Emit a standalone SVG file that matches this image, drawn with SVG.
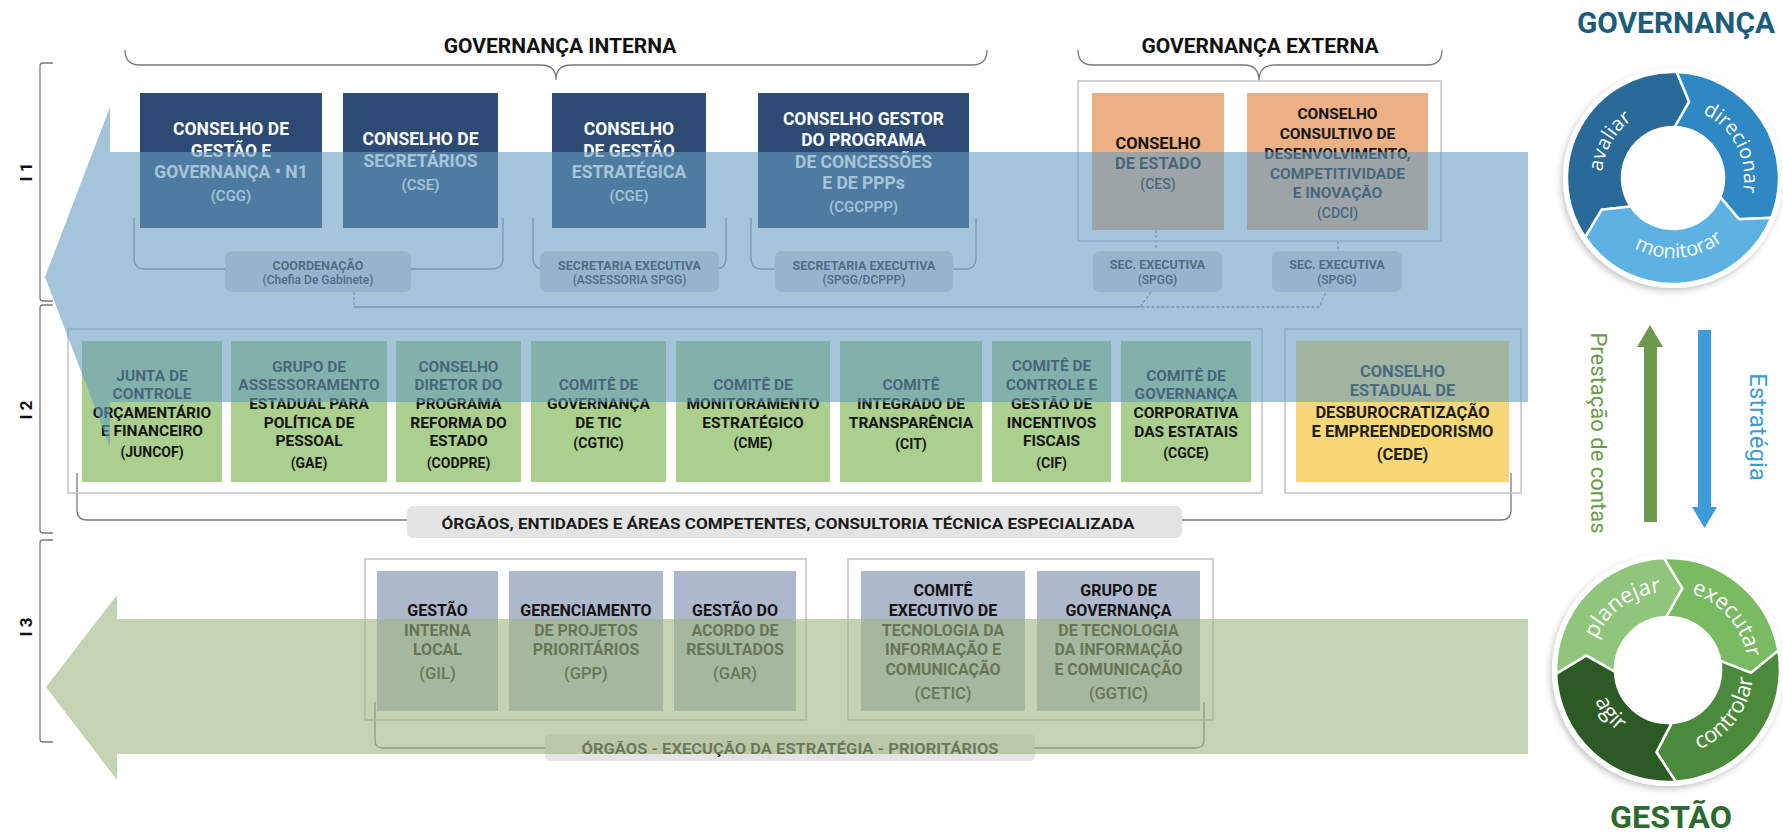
<svg xmlns="http://www.w3.org/2000/svg" width="1783" height="834" viewBox="0 0 1783 834">
<defs>
<style>
text{font-family:Roboto,'Liberation Sans',sans-serif;text-anchor:middle}
.h{font-size:21px;font-weight:700;fill:#111}
.lv{font-size:17px;font-weight:700;fill:#111}
.br{fill:none;stroke:#7a7a7a;stroke-width:1.3}
.bg{fill:none;stroke:#8c959e;stroke-width:1.3}
.dl{fill:none;stroke:#8c959e;stroke-width:1.3;stroke-dasharray:3 2}
.ob{fill:none;stroke:#c4c4c4;stroke-width:1.5}
.nv{fill:#2c4a72}
.or{fill:#ebb083}
.gr{fill:#abcf8e}
.ye{fill:#f7d776}
.gb{fill:#aeb8cc}
.sb{fill:#d6dae0}
.lb{fill:#e4e4e4}
.w17{font-size:17.5px;font-weight:700;fill:#fff}
.wp{font-size:15px;font-weight:500;fill:#fff}
.o16{font-size:16.5px;font-weight:700;fill:#161616}
.o15{font-size:15.5px;font-weight:700;fill:#161616}
.op{font-size:14px;font-weight:500;fill:#161616}
.s1{font-size:12.5px;font-weight:700;fill:#262626}
.s2{font-size:12px;font-weight:500;fill:#262626}
.g15{font-size:15.5px;font-weight:700;fill:#141414}
.gp{font-size:14px;font-weight:700;fill:#141414}
.c16{font-size:16.5px;font-weight:700;fill:#1e1e1e}
.b16{font-size:16px;font-weight:700;fill:#141414}
.bp{font-size:16.5px;font-weight:500;fill:#141414}
.lab{font-size:15.5px;font-weight:700;fill:#1c1c1c}
.rg{font-family:'Open Sans','Liberation Sans',sans-serif;fill:#fff;font-size:20px}
.rm{font-family:'Open Sans','Liberation Sans',sans-serif;fill:#fff;font-size:22px}
.seg{stroke:#fff;stroke-width:2.5;stroke-linejoin:round}
</style>
<filter id="sh" x="-20%" y="-20%" width="140%" height="140%"><feDropShadow dx="-2" dy="3" stdDeviation="3" flood-color="#000" flood-opacity="0.22"/></filter>
<path id="pAva" d="M1606.3,202.3 A71,71 0 0 1 1660.7,108.1"/>
<path id="pDir" d="M1689.0,108.8 A71,71 0 0 1 1738.4,205.7"/>
<path id="pMon" d="M1611.7,229.4 A80,80 0 0 0 1742.3,218.0"/>
<path id="pPla" d="M1590.2,664.6 A78,78 0 0 1 1686.9,594.3"/>
<path id="pExe" d="M1666.6,590.0 A80,80 0 0 1 1747.0,682.5"/>
<path id="pCon" d="M1672.4,754.9 A85,85 0 0 0 1750.8,650.9"/>
<path id="pAgi" d="M1591.0,652.2 A79,79 0 0 0 1663.9,748.9"/>
</defs>
<rect width="1783" height="834" fill="#fff"/>

<!-- headers and braces -->
<g id="headers">
<text class="h" x="560" y="53">GOVERNANÇA INTERNA</text>
<text class="h" x="1260" y="53">GOVERNANÇA EXTERNA</text>
<path class="br" d="M125,50 Q125,65 140,65 L541,65 Q556,65 556,80 Q556,65 571,65 L972,65 Q987,65 987,50"/>
<path class="br" d="M1078,50 Q1078,65 1093,65 L1244,65 Q1259,65 1259,81 Q1259,65 1274,65 L1427,65 Q1442,65 1442,50"/>
</g>

<!-- level brackets -->
<g id="levels">
<path class="br" stroke="#333" d="M53,63 L43,63 Q40,63 40,66 L40,298 Q40,301 43,301 L53,301"/>
<path class="br" stroke="#333" d="M53,305 L43,305 Q40,305 40,308 L40,530 Q40,533 43,533 L53,533"/>
<path class="br" stroke="#333" d="M53,540 L43,540 Q40,540 40,543 L40,739 Q40,742 43,742 L53,742"/>
<text class="lv" transform="translate(32,172) rotate(-90)">I 1</text>
<text class="lv" transform="translate(32,410) rotate(-90)">I 2</text>
<text class="lv" transform="translate(32,627) rotate(-90)">I 3</text>
</g>

<!-- connectors -->
<g id="connectors">
<path class="bg" d="M134,218 L134,258 Q134,269 145,269 L225,269 M411,269 L492,269 Q503,269 503,258 L503,218"/>
<path class="bg" d="M533,218 L533,258 Q533,269 544,269 M715,269 Q726,269 726,258 L726,218"/>
<path class="bg" d="M751,218 L751,258 Q751,269 762,269 L775,269 M953,269 L965,269 Q976,269 976,258 L976,218"/>
<path class="dl" d="M1156,230 L1156,250 M1338,241 L1338,250"/>
<path class="dl" d="M354,292 L354,307"/>
<path class="bg" d="M354,307 L1140,307"/>
<path class="dl" d="M1151,292 L1140,307 L1319,307 L1326,292"/>
<path class="br" d="M77,473 L77,510 Q77,520 87,520 L407,520 M1182,520 L1501,520 Q1511,520 1511,510 L1511,473"/>
<path class="br" d="M375,702 L375,740 Q375,748 383,748 L545,748 M1035,748 L1196,748 Q1204,748 1204,740 L1204,702"/>
</g>

<!-- outer group boxes -->
<g id="groups">
<rect class="ob" x="1078" y="81" width="363" height="160"/>
<rect class="ob" x="68" y="329" width="1194" height="164"/>
<rect class="ob" x="1285" y="329" width="236" height="164"/>
<rect class="ob" x="365" y="559" width="441" height="161"/>
<rect class="ob" x="848" y="559" width="365" height="161"/>
</g>

<!-- I1 nodes -->
<g id="cgg"><rect class="nv" x="140" y="93" width="182" height="135"/>
<text class="w17" x="231" y="135">CONSELHO DE</text><text class="w17" x="231" y="157">GESTÃO E</text><text class="w17" x="231" y="178">GOVERNANÇA • N1</text><text class="wp" x="231" y="201">(CGG)</text></g>
<g id="cse"><rect class="nv" x="343" y="93" width="155" height="135"/>
<text class="w17" x="420.5" y="145">CONSELHO DE</text><text class="w17" x="420.5" y="167">SECRETÁRIOS</text><text class="wp" x="420.5" y="190">(CSE)</text></g>
<g id="cge"><rect class="nv" x="552" y="93" width="154" height="135"/>
<text class="w17" x="629" y="135">CONSELHO</text><text class="w17" x="629" y="157">DE GESTÃO</text><text class="w17" x="629" y="178">ESTRATÉGICA</text><text class="wp" x="629" y="201">(CGE)</text></g>
<g id="cgcppp"><rect class="nv" x="758" y="93" width="211" height="135"/>
<text class="w17" x="863.5" y="125">CONSELHO GESTOR</text><text class="w17" x="863.5" y="146">DO PROGRAMA</text><text class="w17" x="863.5" y="168">DE CONCESSÕES</text><text class="w17" x="863.5" y="189">E DE PPPs</text><text class="wp" x="863.5" y="212">(CGCPPP)</text></g>
<g id="ces"><rect class="or" x="1092" y="93" width="132" height="137"/>
<text class="o16" x="1158" y="149">CONSELHO</text><text class="o16" x="1158" y="169">DE ESTADO</text><text class="op" x="1158" y="189">(CES)</text></g>
<g id="cdci"><rect class="or" x="1247" y="93" width="181" height="137"/>
<text class="o15" x="1337.5" y="119">CONSELHO</text><text class="o15" x="1337.5" y="139">CONSULTIVO DE</text><text class="o15" x="1337.5" y="159">DESENVOLVIMENTO,</text><text class="o15" x="1337.5" y="179">COMPETITIVIDADE</text><text class="o15" x="1337.5" y="198">E INOVAÇÃO</text><text class="op" x="1337.5" y="218">(CDCI)</text></g>

<g id="coord"><rect class="sb" x="225" y="251" width="186" height="41" rx="7"/>
<text class="s1" x="318" y="269.5">COORDENAÇÃO</text><text class="s2" x="318" y="283.5">(Chefia De Gabinete)</text></g>
<g id="secCge"><rect class="sb" x="540" y="251" width="179" height="41" rx="7"/>
<text class="s1" x="629.5" y="269.5">SECRETARIA EXECUTIVA</text><text class="s2" x="629.5" y="283.5">(ASSESSORIA SPGG)</text></g>
<g id="secCgcppp"><rect class="sb" x="775" y="251" width="178" height="41" rx="7"/>
<text class="s1" x="864" y="269.5">SECRETARIA EXECUTIVA</text><text class="s2" x="864" y="283.5">(SPGG/DCPPP)</text></g>
<g id="secCes"><rect class="sb" x="1093" y="251" width="129" height="41" rx="7"/>
<text class="s1" x="1157.5" y="269">SEC. EXECUTIVA</text><text class="s2" x="1157.5" y="283.5">(SPGG)</text></g>
<g id="secCdci"><rect class="sb" x="1272" y="251" width="130" height="41" rx="7"/>
<text class="s1" x="1337" y="269">SEC. EXECUTIVA</text><text class="s2" x="1337" y="283.5">(SPGG)</text></g>

<!-- I2 nodes -->
<g id="juncof"><rect class="gr" x="82" y="341" width="140" height="141"/>
<text class="g15" x="152" y="381">JUNTA DE</text><text class="g15" x="152" y="399">CONTROLE</text><text class="g15" x="152" y="418">ORÇAMENTÁRIO</text><text class="g15" x="152" y="436">E FINANCEIRO</text><text class="gp" x="152" y="457">(JUNCOF)</text></g>
<g id="gae"><rect class="gr" x="231" y="341" width="156" height="141"/>
<text class="g15" x="309" y="372">GRUPO DE</text><text class="g15" x="309" y="390">ASSESSORAMENTO</text><text class="g15" x="309" y="409">ESTADUAL PARA</text><text class="g15" x="309" y="428">POLÍTICA DE</text><text class="g15" x="309" y="446">PESSOAL</text><text class="gp" x="309" y="468">(GAE)</text></g>
<g id="codpre"><rect class="gr" x="396" y="341" width="125" height="141"/>
<text class="g15" x="458.5" y="372">CONSELHO</text><text class="g15" x="458.5" y="390">DIRETOR DO</text><text class="g15" x="458.5" y="409">PROGRAMA</text><text class="g15" x="458.5" y="428">REFORMA DO</text><text class="g15" x="458.5" y="446">ESTADO</text><text class="gp" x="458.5" y="468">(CODPRE)</text></g>
<g id="cgtic"><rect class="gr" x="531" y="341" width="135" height="141"/>
<text class="g15" x="598.5" y="390">COMITÊ DE</text><text class="g15" x="598.5" y="409">GOVERNANÇA</text><text class="g15" x="598.5" y="428">DE TIC</text><text class="gp" x="598.5" y="448">(CGTIC)</text></g>
<g id="cme"><rect class="gr" x="676" y="341" width="154" height="141"/>
<text class="g15" x="753" y="390">COMITÊ DE</text><text class="g15" x="753" y="409">MONITORAMENTO</text><text class="g15" x="753" y="428">ESTRATÉGICO</text><text class="gp" x="753" y="448">(CME)</text></g>
<g id="cit"><rect class="gr" x="840" y="341" width="142" height="141"/>
<text class="g15" x="911" y="390">COMITÊ</text><text class="g15" x="911" y="409">INTEGRADO DE</text><text class="g15" x="911" y="428">TRANSPARÊNCIA</text><text class="gp" x="911" y="449">(CIT)</text></g>
<g id="cif"><rect class="gr" x="992" y="341" width="119" height="141"/>
<text class="g15" x="1051.5" y="371">COMITÊ DE</text><text class="g15" x="1051.5" y="390">CONTROLE E</text><text class="g15" x="1051.5" y="409">GESTÃO DE</text><text class="g15" x="1051.5" y="428">INCENTIVOS</text><text class="g15" x="1051.5" y="446">FISCAIS</text><text class="gp" x="1051.5" y="468">(CIF)</text></g>
<g id="cgce"><rect class="gr" x="1121" y="341" width="130" height="141"/>
<text class="g15" x="1186" y="381">COMITÊ DE</text><text class="g15" x="1186" y="399">GOVERNANÇA</text><text class="g15" x="1186" y="418">CORPORATIVA</text><text class="g15" x="1186" y="437">DAS ESTATAIS</text><text class="gp" x="1186" y="458">(CGCE)</text></g>
<g id="cede"><rect class="ye" x="1296" y="341" width="213" height="141"/>
<text class="c16" x="1402.5" y="377">CONSELHO</text><text class="c16" x="1402.5" y="396">ESTADUAL DE</text><text class="c16" x="1402.5" y="418">DESBUROCRATIZAÇÃO</text><text class="c16" x="1402.5" y="437">E EMPREENDEDORISMO</text><text class="c16" x="1402.5" y="460">(CEDE)</text></g>

<!-- blue overlay arrow (I1) -->
<path id="arrowI1" d="M110,107 L45,277 L110,447 L110,402 L1528,402 L1528,152 L110,152 Z" fill="rgb(104,157,192)" fill-opacity="0.6"/>

<g id="labelI2"><rect class="lb" x="407" y="506" width="775" height="32" rx="6"/>
<text class="lab" x="788" y="529" textLength="693" lengthAdjust="spacingAndGlyphs">ÓRGÃOS, ENTIDADES E ÁREAS COMPETENTES, CONSULTORIA TÉCNICA ESPECIALIZADA</text></g>

<!-- I3 nodes -->
<g id="gil"><rect class="gb" x="377" y="571" width="121" height="140"/>
<text class="b16" x="437.5" y="616">GESTÃO</text><text class="b16" x="437.5" y="636">INTERNA</text><text class="b16" x="437.5" y="655">LOCAL</text><text class="bp" x="437.5" y="679">(GIL)</text></g>
<g id="gpp"><rect class="gb" x="509" y="571" width="154" height="140"/>
<text class="b16" x="586" y="616">GERENCIAMENTO</text><text class="b16" x="586" y="636">DE PROJETOS</text><text class="b16" x="586" y="655">PRIORITÁRIOS</text><text class="bp" x="586" y="679">(GPP)</text></g>
<g id="gar"><rect class="gb" x="674" y="571" width="122" height="140"/>
<text class="b16" x="735" y="616">GESTÃO DO</text><text class="b16" x="735" y="636">ACORDO DE</text><text class="b16" x="735" y="655">RESULTADOS</text><text class="bp" x="735" y="679">(GAR)</text></g>
<g id="cetic"><rect class="gb" x="861" y="571" width="164" height="140"/>
<text class="b16" x="943" y="596">COMITÊ</text><text class="b16" x="943" y="616">EXECUTIVO DE</text><text class="b16" x="943" y="636">TECNOLOGIA DA</text><text class="b16" x="943" y="655">INFORMAÇÃO E</text><text class="b16" x="943" y="675">COMUNICAÇÃO</text><text class="bp" x="943" y="699">(CETIC)</text></g>
<g id="ggtic"><rect class="gb" x="1037" y="571" width="163" height="140"/>
<text class="b16" x="1118.5" y="596">GRUPO DE</text><text class="b16" x="1118.5" y="616">GOVERNANÇA</text><text class="b16" x="1118.5" y="636">DE TECNOLOGIA</text><text class="b16" x="1118.5" y="655">DA INFORMAÇÃO</text><text class="b16" x="1118.5" y="675">E COMUNICAÇÃO</text><text class="bp" x="1118.5" y="699">(GGTIC)</text></g>

<g id="labelI3"><rect class="lb" x="545" y="734" width="490" height="27" rx="5"/>
<text class="lab" x="790" y="754" font-size="15" textLength="417" lengthAdjust="spacingAndGlyphs">ÓRGÃOS - EXECUÇÃO DA ESTRATÉGIA - PRIORITÁRIOS</text></g>

<!-- green overlay arrow (I3) -->
<path id="arrowI3" d="M117,595 L46,687 L117,780 L117,754 L1528,754 L1528,619 L117,619 Z" fill="rgb(158,182,128)" fill-opacity="0.6"/>

<!-- right panel -->
<g id="governanca">
<text x="1676" y="33" font-family="'Open Sans','Liberation Sans',sans-serif" font-size="30" font-weight="700" fill="#1c5d7c" textLength="198" lengthAdjust="spacingAndGlyphs">GOVERNANÇA</text>
<circle cx="1673" cy="178" r="110" fill="#fff" filter="url(#sh)"/>
<path class="seg" fill="#2a6a98" d="M1585.1,237.3 A106,106 0 0 1 1676.7,72.1 L1689.2,101.7 L1674.8,127.0 A51,51 0 0 0 1630.7,206.5 L1601.7,209.7 Z"/>
<path class="seg" fill="#2e88c4" d="M1676.7,72.1 A106,106 0 0 1 1771.3,217.7 L1739.1,219.3 L1720.3,197.1 A51,51 0 0 0 1674.8,127.0 L1689.2,101.7 Z"/>
<path class="seg" fill="#5cb3e3" d="M1771.3,217.7 A106,106 0 0 1 1585.1,237.3 L1601.7,209.7 L1630.7,206.5 A51,51 0 0 0 1720.3,197.1 L1739.1,219.3 Z"/>
<text class="rg"><textPath href="#pAva" startOffset="50%">avaliar</textPath></text>
<text class="rg"><textPath href="#pDir" startOffset="50%">direcionar</textPath></text>
<text class="rg"><textPath href="#pMon" startOffset="50%">monitorar</textPath></text>
</g>

<g id="flow">
<path fill="#6b9a4d" d="M1644,522 L1657,522 L1657,347 L1663,347 L1650,325 L1637,347 L1644,347 Z"/>
<path fill="#3d9bd8" d="M1698,330 L1711,330 L1711,507 L1717,507 L1704.5,528 L1692,507 L1698,507 Z"/>
<text transform="translate(1591,433) rotate(90)" font-family="'Open Sans','Liberation Sans',sans-serif" font-size="22" fill="#6b9a4d">Prestação de contas</text>
<text transform="translate(1750,427) rotate(90)" font-family="'Open Sans','Liberation Sans',sans-serif" font-size="24" fill="#3d9bd8">Estratégia</text>
</g>

<g id="gestao">
<circle cx="1668" cy="670" r="116" fill="#fff" filter="url(#sh)"/>
<path class="seg" fill="#8fc67c" d="M1556.1,673.9 A112,112 0 0 1 1664.1,558.1 L1682.4,588.3 L1666.2,617.0 A53,53 0 0 0 1615.0,671.8 L1586.3,655.6 Z"/>
<path class="seg" fill="#7aba62" d="M1664.1,558.1 A112,112 0 0 1 1778.3,650.6 L1751.0,672.9 L1720.2,660.8 A53,53 0 0 0 1666.2,617.0 L1682.4,588.3 Z"/>
<path class="seg" fill="#4b8a3a" d="M1778.3,650.6 A112,112 0 0 1 1675.8,781.7 L1656.5,752.2 L1671.7,722.9 A53,53 0 0 0 1720.2,660.8 L1751.0,672.9 Z"/>
<path class="seg" fill="#2c5a25" d="M1675.8,781.7 A112,112 0 0 1 1556.1,673.9 L1586.3,655.6 L1615.0,671.8 A53,53 0 0 0 1671.7,722.9 L1656.5,752.2 Z"/>
<text class="rm"><textPath href="#pPla" startOffset="50%">planejar</textPath></text>
<text class="rm"><textPath href="#pExe" startOffset="50%">executar</textPath></text>
<text class="rm"><textPath href="#pCon" startOffset="50%">controlar</textPath></text>
<text class="rm"><textPath href="#pAgi" startOffset="50%">agir</textPath></text>
<text x="1671" y="828" font-family="'Open Sans','Liberation Sans',sans-serif" font-size="32" font-weight="700" fill="#2d6a2d" textLength="122" lengthAdjust="spacingAndGlyphs">GESTÃO</text>
</g>
</svg>
